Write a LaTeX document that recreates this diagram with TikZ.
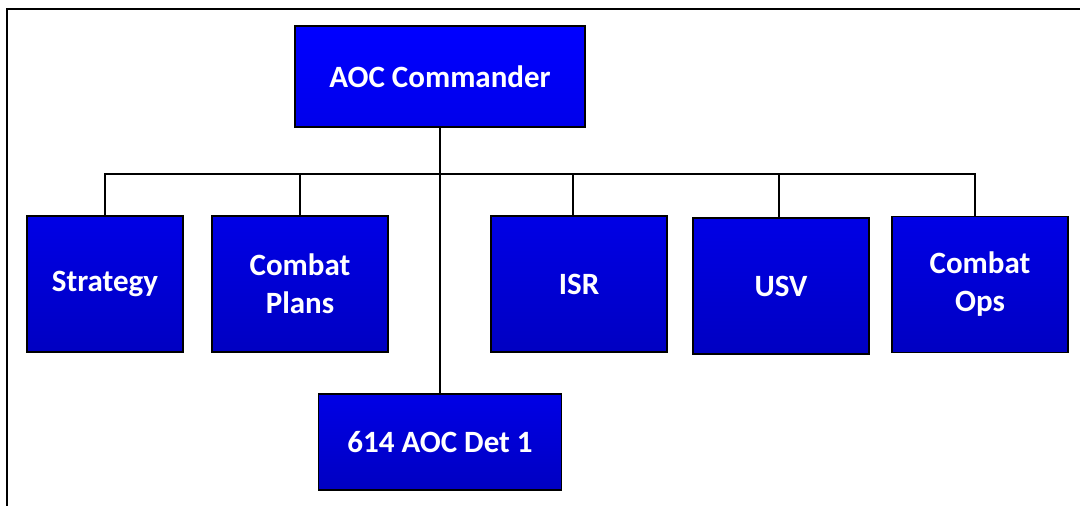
\documentclass[tikz,border=0pt]{standalone}
\usepackage{fontspec}
\setmainfont{Carlito}
\tikzset{
  unit/.style={draw=black, line width=1.6pt, inner sep=0pt, align=center,
    text=white, font=\bfseries\fontsize{31}{38}\selectfont,
    top color=blue!90!black, bottom color=blue!76!black},
  link/.style={draw=black, line width=1.5pt}
}
\begin{document}
\begin{tikzpicture}[x=1pt,y=-1pt]
      % Fix the page to the size of the reference
      \useasboundingbox (0,0) rectangle (1080,506);
      % Draw the frame (only left and top edges show)
      \draw[line width=2pt] (7,506) -- (7,9) -- (1080,9);

      % Draw the commander box
      \node[unit, minimum width=290pt, minimum height=101pt,
            top color=blue, bottom color=blue!92!black] (cmd) at (440,76.5) {AOC Commander};

      % Draw the row of divisions
      \node[unit, minimum width=156pt, minimum height=136pt] (strat) at (105,284) {Strategy};
      \node[unit, minimum width=176pt, minimum height=136pt] (plans) at (300,284) {Combat\\Plans};
      \node[unit, minimum width=176pt, minimum height=136pt] (isr) at (579,284) {ISR};
      \node[unit, minimum width=176pt, minimum height=136pt] (usv) at (781,286) {USV};
      \node[unit, minimum width=176pt, minimum height=136pt] (ops) at (980,284.5) {Combat\\Ops};

      % Draw the detachment below
      \node[unit, minimum width=243pt, minimum height=96pt] (det) at (440,442) {614 AOC Det 1};

      % Draw the connectors
      \coordinate (bus) at (440,174);
      \draw[link] (cmd.south) -- (det.north);
      \draw[link] (strat.north) |- (bus) -| ([xshift=-5pt]ops.north);
      \draw[link] (plans.north) -- (plans.north |- bus);
      \draw[link] ([xshift=-6pt]isr.north) -- ([xshift=-6pt]isr.north |- bus);
      \draw[link] ([xshift=-2pt]usv.north) -- ([xshift=-2pt]usv.north |- bus);
  \end{tikzpicture}
\end{document}
